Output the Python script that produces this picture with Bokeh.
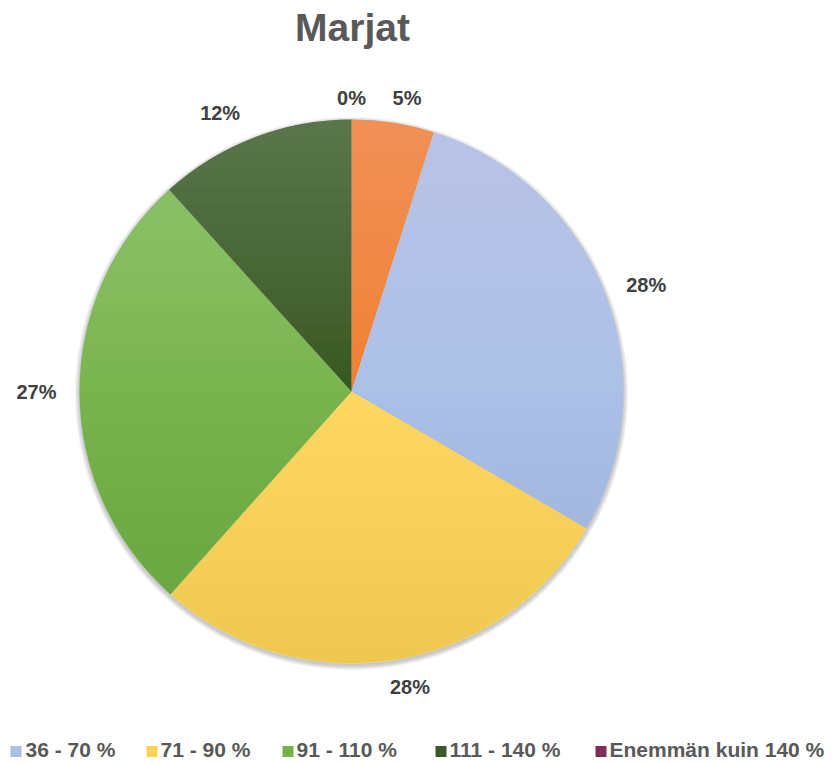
import numpy as np
from bokeh.plotting import figure
from bokeh.models import Range1d
from bokeh.core.properties import value
from bokeh.embed import file_html
from bokeh.resources import INLINE

# ---- data ----
title = "Marjat"
categories = ["0 - 35 %", "36 - 70 %", "71 - 90 %", "91 - 110 %", "111 - 140 %", "Enemmän kuin 140 %"]
shares = [4.9, 28.5, 28.2, 26.7, 11.7, 0.0]
share_labels = ["5%", "28%", "28%", "27%", "12%", "0%"]
slice_colors = ["#F07F2E", "#ABC0E6", "#FFD862", "#78B44E", "#35561F", "#7E2F55"]
legend_categories = ["36 - 70 %", "71 - 90 %", "91 - 110 %", "111 - 140 %", "Enemmän kuin 140 %"]
legend_colors = ["#ABBFE6", "#FBD254", "#74B24A", "#3A5A28", "#7E2F55"]

# ---- layout ----
W, H = 832, 763
cx, cy, R = 351, 372, 272
FONT = "Liberation Sans"
legend_sq_x = [10, 146, 282, 435, 595]
legend_tx_x = [25, 160, 296, 449, 609]
legend_sq_y = 12
legend_tx_y = 14
# small pixel nudges of the outside-end labels (dx right, dy down, in screen px)
label_nudge_x = [10, 2, 12, 0, -23, 0]
label_nudge_y = [0, 6, 2, 0, 3, 0]

p = figure(width=W, height=H, x_range=Range1d(0, W), y_range=Range1d(0, H),
           output_backend="svg", toolbar_location=None, min_border=0)
p.axis.visible = False
p.grid.visible = False
p.outline_line_color = None
p.background_fill_color = "white"
p.border_fill_color = "white"

# soft shadow
for dr in [0.5, 1.5, 2.5, 3.5, 4.5]:
    p.circle(x=[cx], y=[cy - 2], radius=R + dr, fill_color="#383838",
             fill_alpha=0.06, line_color=None)

# wedges
vals = np.array(shares, dtype=float)
frac = vals / vals.sum()
cum = np.concatenate([[0], np.cumsum(frac)])
starts = np.pi / 2 - 2 * np.pi * cum[:-1]
ends = np.pi / 2 - 2 * np.pi * cum[1:]
for s, e, c, f in zip(starts, ends, slice_colors, frac):
    if f <= 0:
        continue
    p.wedge(x=cx, y=cy, radius=R, start_angle=s, end_angle=e, direction="clock",
            fill_color=c, line_color=None)

# vertical gradient overlay (lighter top, darker bottom)
N = 16
top_xs, top_ys, bot_xs, bot_ys = [], [], [], []
for k in range(N):
    d = R * k / N
    a0 = np.arcsin(d / R)
    t = np.linspace(a0, np.pi - a0, 120)
    top_xs.append(list(cx + R * np.cos(t)))
    top_ys.append(list(cy + R * np.sin(t)))
    bot_xs.append(list(cx + R * np.cos(t)))
    bot_ys.append(list(cy - R * np.sin(t)))
p.patches(top_xs, top_ys, fill_color="white", fill_alpha=0.015, line_color=None)
p.patches(bot_xs, bot_ys, fill_color="black", fill_alpha=0.0045, line_color=None)

# data labels
mid = 2 * np.pi * (cum[:-1] + cum[1:]) / 2  # clockwise from top
rl = R + 22 + 21 * np.abs(np.sin(mid))
lx = cx + rl * np.sin(mid) + np.array(label_nudge_x)
ly = cy + rl * np.cos(mid) - np.array(label_nudge_y)
p.text(x=list(lx), y=list(ly), text=share_labels, text_font=value(FONT),
       text_font_style="bold", text_font_size="20px", text_color="#404040",
       text_align="center", text_baseline="middle")

# title
p.text(x=[cx + 1], y=[H - 27], text=[title], text_font=value(FONT),
       text_font_style="bold", text_font_size="39px", text_color="#595959",
       text_align="center", text_baseline="middle")

# legend
p.rect(x=[x + 5.5 for x in legend_sq_x], y=[legend_sq_y] * len(legend_sq_x), width=11, height=11,
       fill_color=legend_colors, line_color=None)
p.text(x=legend_tx_x, y=[legend_tx_y] * len(legend_tx_x), text=legend_categories,
       text_font=value(FONT), text_font_style="bold", text_font_size="21px",
       text_color="#595959", text_align="left", text_baseline="middle")

open("out.html", "w").write(file_html(p, INLINE))
